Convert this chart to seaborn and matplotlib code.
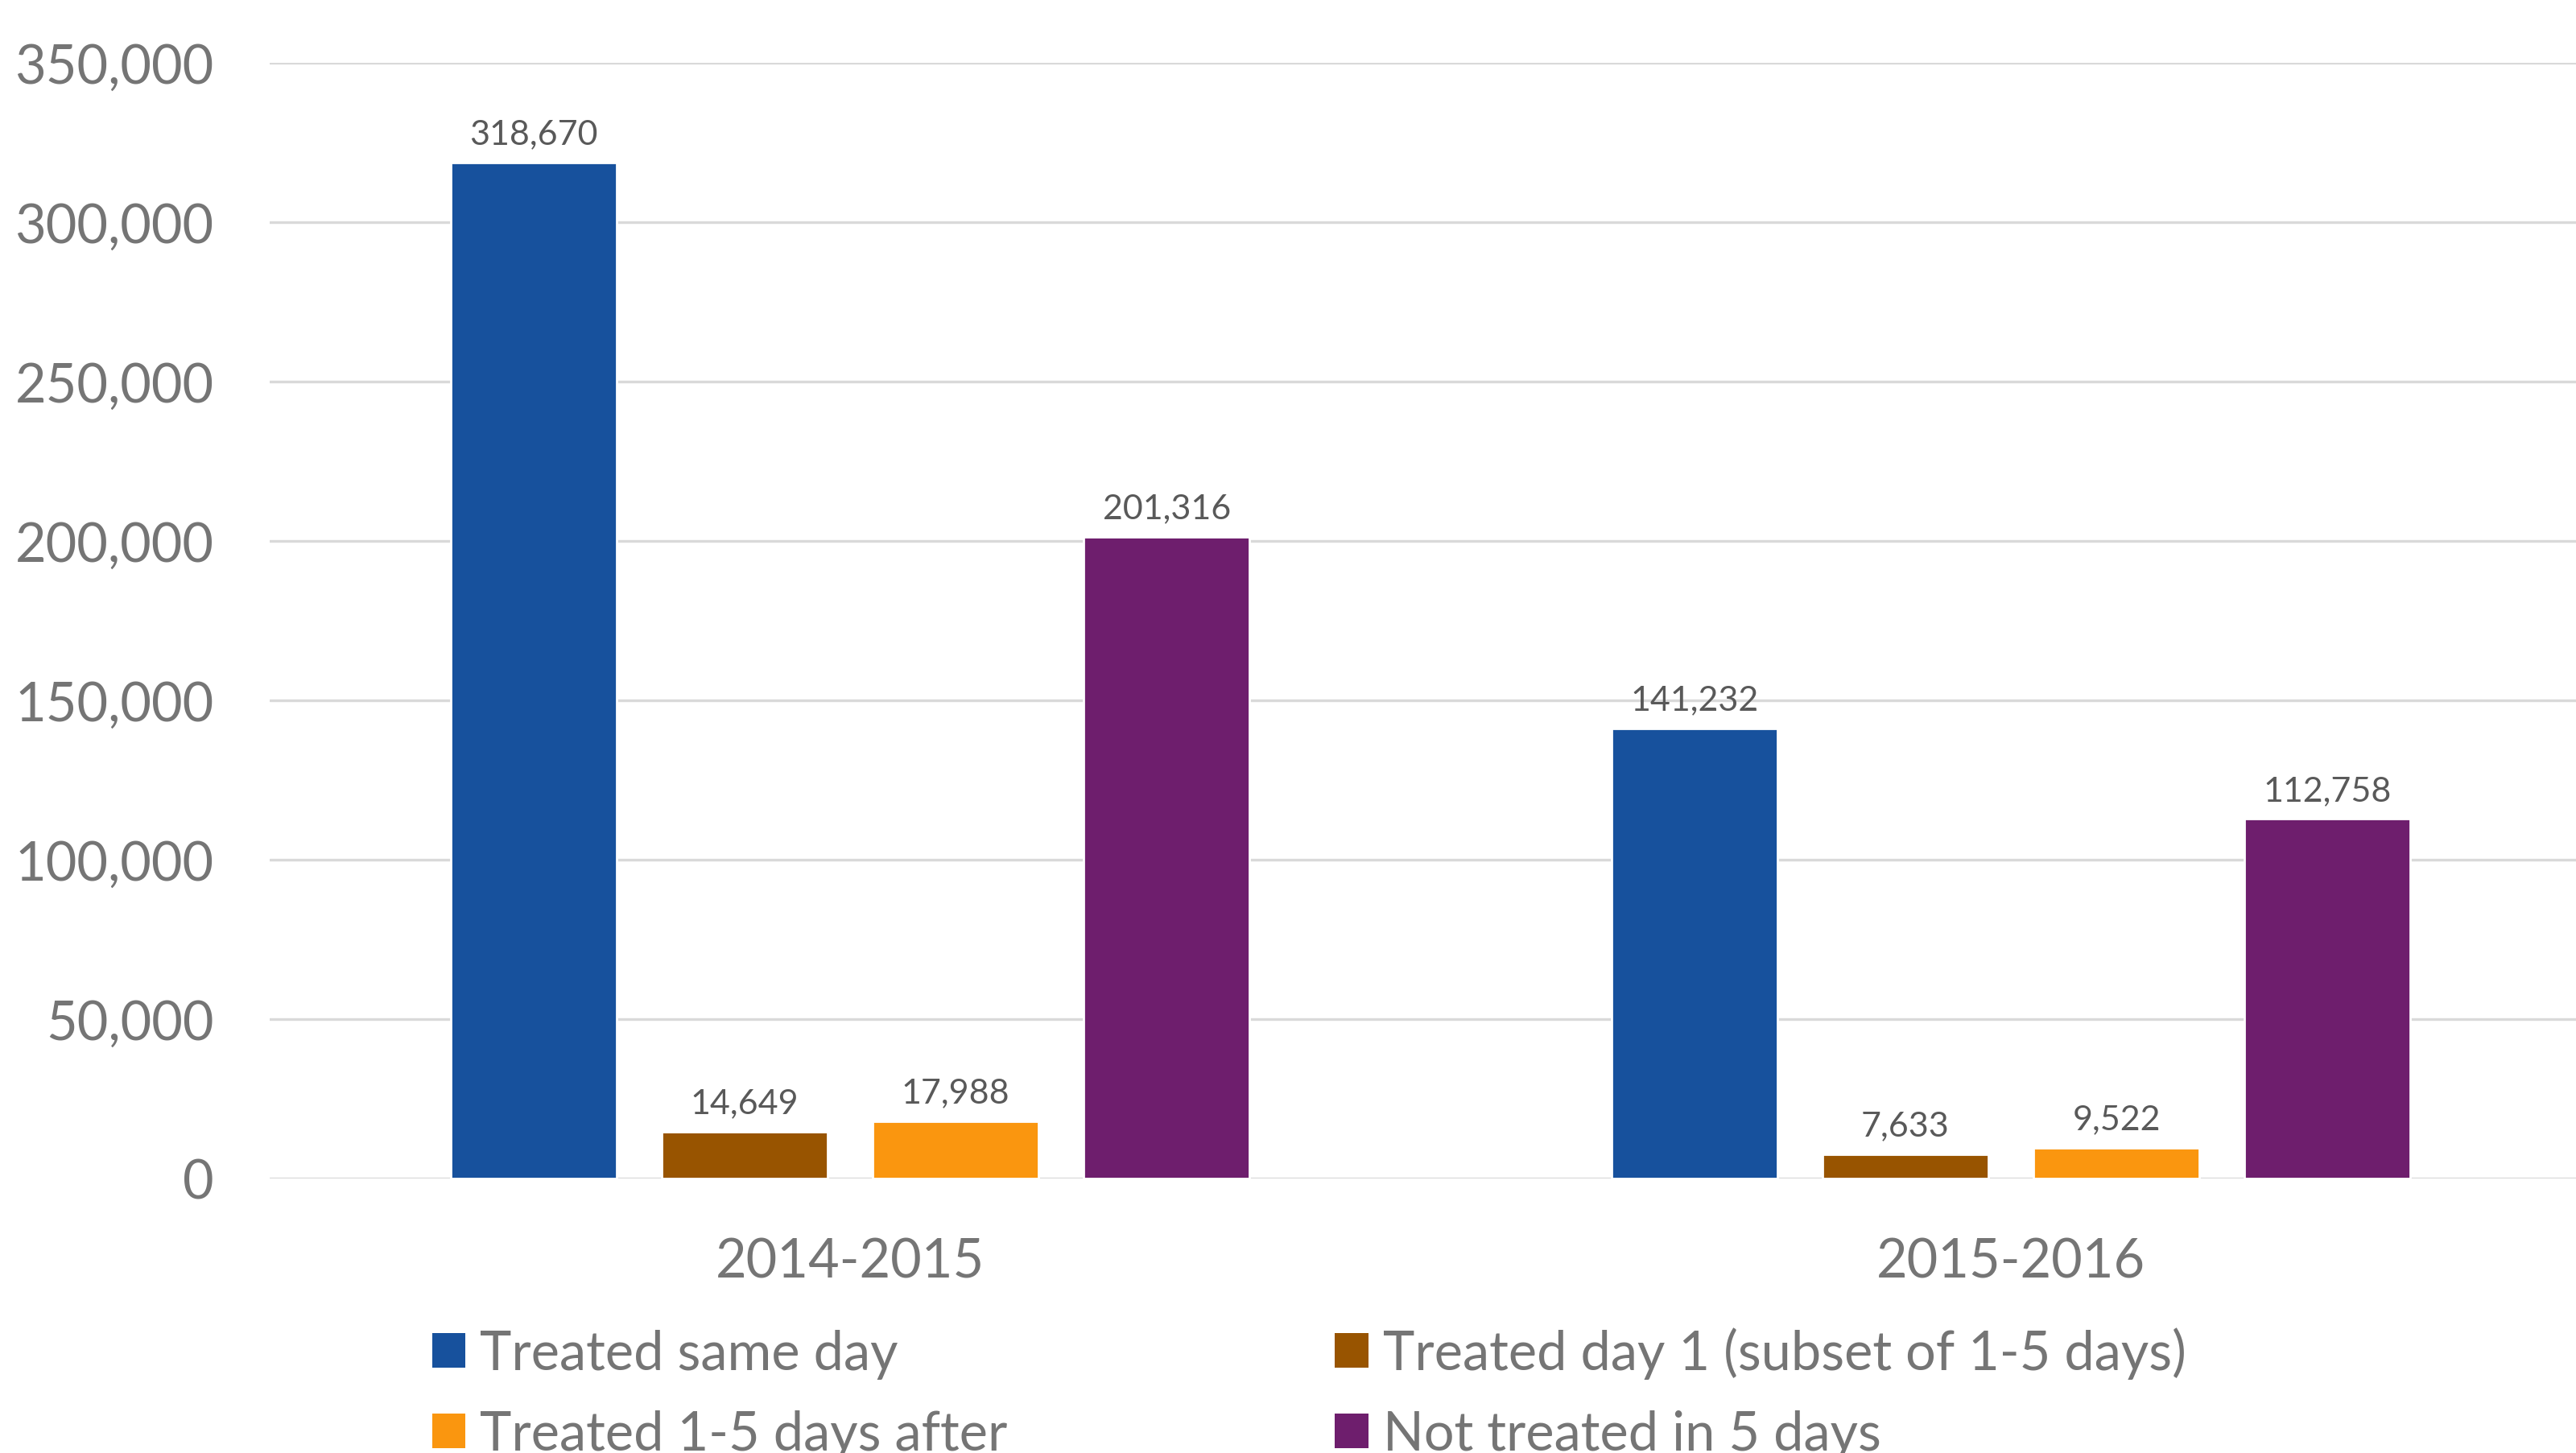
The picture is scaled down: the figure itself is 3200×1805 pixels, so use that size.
import matplotlib
matplotlib.use("Agg")
import matplotlib.pyplot as plt
import pandas as pd
import seaborn as sns
from matplotlib.patches import Patch
from matplotlib.ticker import FuncFormatter

sns.set_style("white")
plt.rcParams["font.family"] = ["Lato", "DejaVu Sans"]

# -----------------------------
# Data
# -----------------------------
years = ["2014-2015", "2015-2016"]
groups = [
    "Treated same day",
    "Treated day 1 (subset of 1-5 days)",
    "Treated 1-5 days after",
    "Not treated in 5 days",
]
same_day = [318670, 141232]
day_one = [14649, 7633]
one_to_five = [17988, 9522]
not_treated = [201316, 112758]

colors = ["#17519D", "#985400", "#FA960F", "#6E1E6D"]

df = pd.DataFrame({
    "year": years * 4,
    "group": [g for g in groups for _ in years],
    "count": same_day + day_one + one_to_five + not_treated,
})

fig = plt.figure(figsize=(16, 9.03), dpi=200)
ax = fig.add_axes([335 / 3200, 1 - 1465 / 1806, (3219 - 335) / 3200, (1465 - 79) / 1806])

sns.barplot(
    data=df, x="year", y="count", hue="group",
    order=years, hue_order=groups, palette=colors,
    width=0.727, gap=0.214, saturation=1, legend=False, ax=ax,
)

for cont in ax.containers:
    ax.bar_label(cont, labels=[f"{v:,.0f}" for v in cont.datavalues],
                 padding=6, fontsize=15.5, color="#595959")

ax.set_ylim(0, 350000)
ax.set_xlim(-0.5, 1.5)
ax.set_yticks(range(0, 350001, 50000))
ax.yaxis.set_major_formatter(FuncFormatter(lambda v, p: f"{v:,.0f}"))
ax.grid(axis="y", color="#D9D9D9", linewidth=1.2)
ax.set_axisbelow(True)
for s in ax.spines.values():
    s.set_visible(False)
ax.tick_params(axis="y", length=0, pad=25, labelsize=24, labelcolor="#757575")
ax.tick_params(axis="x", length=0, pad=26, labelsize=24, labelcolor="#757575")
ax.set_xlabel("")
ax.set_ylabel("")

# legend fills column by column, so order it to read row by row
handles = [Patch(facecolor=c, edgecolor="none") for c in colors]
order = [0, 2, 1, 3]
fig.legend(
    [handles[i] for i in order], [groups[i] for i in order],
    ncol=2, loc="upper left",
    bbox_to_anchor=(537 / 3200, 1 - 1649 / 1806),
    frameon=False, fontsize=24, labelcolor="#757575",
    handlelength=0.62, handleheight=0.62, handletextpad=0.27,
    columnspacing=6.1, labelspacing=0.57, borderpad=0, borderaxespad=0,
)

fig.savefig("out.png", dpi=200)
